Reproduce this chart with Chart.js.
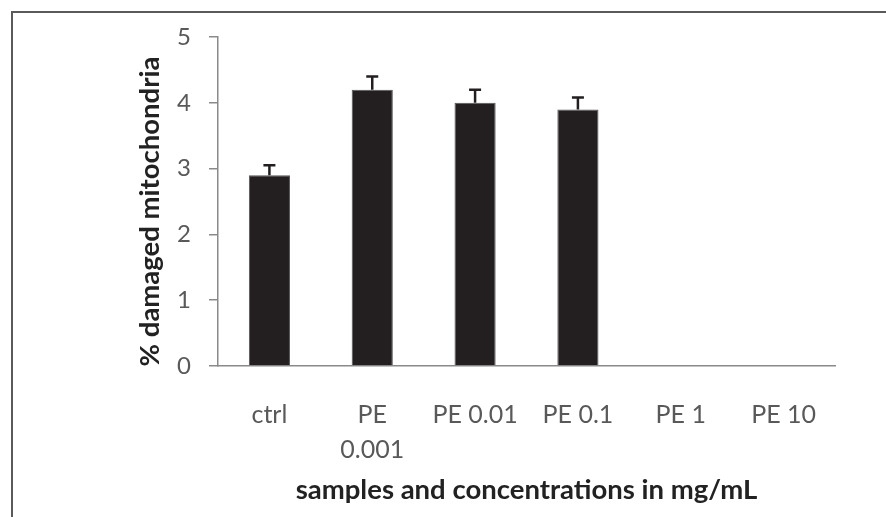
<!DOCTYPE html>
<html lang="en">
<head>
    <meta charset="UTF-8">
    <title>Damaged mitochondria</title>
    <script src="https://cdn.jsdelivr.net/npm/chart.js"></script>
    <style>
        body { margin: 0; background: #fff; }
        #wrap { position: relative; width: 886px; height: 517px; overflow: hidden; }
        #frame { position: absolute; left: 11px; top: 11px; width: 900px; height: 600px;
                 border-top: 2px solid #5a5a5a; border-left: 2px solid #5a5a5a; }
        canvas { position: absolute; left: 0; top: 0; }
    </style>
</head>
<body>
    <div id="wrap">
        <div id="frame"></div>
        <canvas id="barChart" width="886" height="517"></canvas>
    </div>

    <script>
        const samples = [['ctrl'], ['PE', '0.001'], ['PE 0.01'], ['PE 0.1'], ['PE 1'], ['PE 10']];
        const damaged = [2.9, 4.2, 4.0, 3.9, 0, 0];
        const errors = [0.15, 0.2, 0.2, 0.18, 0, 0];
        const yTicks = [0, 1, 2, 3, 4, 5];

        // upper error bars with caps
        const errorBars = {
            id: 'errorBars',
            afterDatasetsDraw(chart) {
                const ctx = chart.ctx;
                const meta = chart.getDatasetMeta(0);
                const y = chart.scales.y;
                ctx.save();
                ctx.strokeStyle = '#231f20';
                ctx.lineWidth = 2.5;
                meta.data.forEach((bar, i) => {
                    if (!errors[i]) return;
                    const top = y.getPixelForValue(damaged[i] + errors[i]);
                    ctx.beginPath();
                    ctx.moveTo(bar.x, bar.y);
                    ctx.lineTo(bar.x, top);
                    ctx.moveTo(bar.x - 6, top);
                    ctx.lineTo(bar.x + 6, top);
                    ctx.stroke();
                });
                ctx.restore();
            }
        };

        Chart.defaults.font.family = 'Lato, "Open Sans", sans-serif';

        new Chart(document.getElementById('barChart'), {
            type: 'bar',
            data: {
                labels: samples,
                datasets: [{
                    data: damaged,
                    backgroundColor: '#231f20',
                    borderColor: '#555',
                    borderWidth: 1,
                    barPercentage: 0.4,
                    categoryPercentage: 1
                }]
            },
            options: {
                responsive: false,
                animation: false,
                layout: { padding: { left: 136, right: 51, top: 37, bottom: 13 } },
                plugins: { legend: { display: false }, tooltip: { enabled: false } },
                scales: {
                    x: {
                        grid: { display: false },
                        border: { color: '#8a8a8a', width: 1.5 },
                        ticks: { color: '#595959', padding: 23, font: { size: 25, lineHeight: 1.4 } },
                        title: {
                            display: true,
                            text: 'samples and concentrations in mg/mL',
                            color: '#222',
                            padding: 0,
                            font: { size: 27.5, weight: 'bold', lineHeight: 1 }
                        },
                        afterFit(scale) { scale.height = 138; }
                    },
                    y: {
                        min: 0,
                        max: 5,
                        afterBuildTicks(scale) { scale.ticks = yTicks.map(v => ({ value: v })); },
                        grid: { drawOnChartArea: false, tickLength: 9, color: '#8a8a8a', lineWidth: 1.5 },
                        border: { color: '#8a8a8a', width: 1.5 },
                        ticks: { color: '#595959', padding: 18, font: { size: 24 } },
                        title: {
                            display: true,
                            text: '% damaged mitochondria   ',
                            color: '#222',
                            padding: 0,
                            font: { size: 27.5, weight: 'bold', lineHeight: 1 }
                        },
                        afterFit(scale) { scale.width = 82; }
                    }
                }
            },
            plugins: [errorBars]
        });
    </script>
</body>
</html>
